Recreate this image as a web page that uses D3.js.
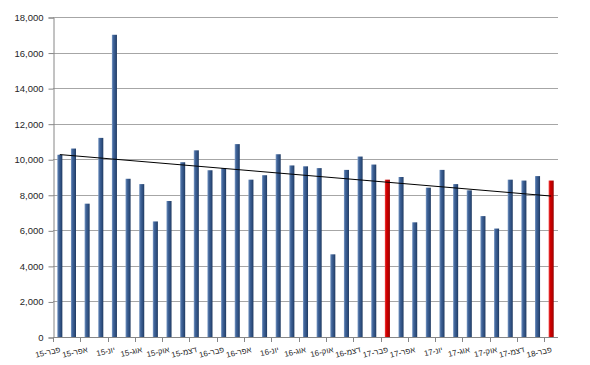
<!doctype html>
<html>
<head>
<meta charset="utf-8">
<title>Monthly counts</title>
<style>
  body { margin: 0; background: #fff; }
  text { font-family: "Liberation Sans", Arial, sans-serif; fill: #262626; }
</style>
</head>
<body>
<div id="chart"></div>
<script src="https://d3js.org/d3.v7.min.js"></script>
<script>
// categories: one per month, Feb-15 .. Feb-18
var months = ["פבר-15","מרץ-15","אפר-15","מאי-15","יונ-15","יול-15","אוג-15","ספט-15","אוק-15","נוב-15","דצמ-15",
              "ינו-16","פבר-16","מרץ-16","אפר-16","מאי-16","יונ-16","יול-16","אוג-16","ספט-16","אוק-16","נוב-16","דצמ-16",
              "ינו-17","פבר-17","מרץ-17","אפר-17","מאי-17","יונ-17","יול-17","אוג-17","ספט-17","אוק-17","נוב-17","דצמ-17",
              "ינו-18","פבר-18"];
var values = [10250,10600,7500,11200,17000,8900,8600,6500,7650,9830,10500,
              9380,9500,10850,8850,9100,10280,9650,9600,9500,4650,9400,10150,
              9700,8850,9000,6450,8400,9400,8600,8250,6800,6100,8850,8800,
              9050,8800];
var highlighted = ["פבר-17","פבר-18"];
var yTicks = [0,2000,4000,6000,8000,10000,12000,14000,16000,18000];

var W = 590, H = 365;
var mLeft = 53, mRight = 558, mTop = 17, mBottom = 337;

var svg = d3.select("#chart").append("svg").attr("width", W).attr("height", H);

var defs = svg.append("defs");
function grad(id, stops) {
  var g = defs.append("linearGradient").attr("id", id)
    .attr("x1", "0").attr("x2", "1").attr("y1", "0").attr("y2", "0");
  stops.forEach(function(s){ g.append("stop").attr("offset", s[0]).attr("stop-color", s[1]); });
}
grad("blueBar", [["0%","#7d9cc6"],["30%","#41659a"],["75%","#2c4c7b"],["100%","#1e385e"]]);
grad("redBar",  [["0%","#f04040"],["35%","#d00000"],["80%","#b00000"],["100%","#880000"]]);

var x = d3.scaleBand().domain(months).range([mLeft, mRight]).paddingInner(0.63).paddingOuter(0.315);
var y = d3.scaleLinear().domain([0, 18000]).range([mBottom, mTop]);

// gridlines
svg.append("g").selectAll("line").data(yTicks.slice(1)).enter().append("line")
  .attr("x1", mLeft).attr("x2", mRight)
  .attr("y1", function(d){ return Math.round(y(d)) + 0.5; })
  .attr("y2", function(d){ return Math.round(y(d)) + 0.5; })
  .attr("stroke", "#a6a6a6").attr("stroke-width", 1);

// y axis
var yAxis = svg.append("g").attr("transform", "translate(" + (mLeft + 0.5) + ",0.5)")
  .call(d3.axisLeft(y).tickValues(yTicks).tickSize(5).tickPadding(5).tickFormat(d3.format(",")));
yAxis.select(".domain").attr("stroke", "#868686");
yAxis.selectAll(".tick line").attr("stroke", "#868686");
yAxis.selectAll("text").style("font-size", "9.5px").style("font-family", "'Liberation Sans', Arial, sans-serif").attr("fill", "#262626");

// bars
svg.append("g").selectAll("rect").data(values).enter().append("rect")
  .attr("x", function(d, i){ return x(months[i]); })
  .attr("width", x.bandwidth())
  .attr("y", function(d){ return y(d); })
  .attr("height", function(d){ return y(0) - y(d); })
  .attr("fill", function(d, i){ return highlighted.indexOf(months[i]) >= 0 ? "url(#redBar)" : "url(#blueBar)"; });

// x axis line + ticks every second month
var step = x.step();
svg.append("line").attr("x1", mLeft).attr("x2", mRight)
  .attr("y1", mBottom + 0.5).attr("y2", mBottom + 0.5).attr("stroke", "#868686");
var tickIdx = d3.range(0, months.length, 2);
svg.append("g").selectAll("line").data(tickIdx).enter().append("line")
  .attr("x1", function(i){ return Math.round(x(months[i]) - step * 0.315) + 0.5; })
  .attr("x2", function(i){ return Math.round(x(months[i]) - step * 0.315) + 0.5; })
  .attr("y1", mBottom).attr("y2", mBottom + 5)
  .attr("stroke", "#868686");

// rotated month labels
svg.append("g").selectAll("text").data(tickIdx).enter().append("text")
  .attr("transform", function(i){
    var cx = x(months[i]) + x.bandwidth() / 2;
    return "translate(" + (cx + 1) + "," + (mBottom + 15) + ") rotate(-13)";
  })
  .attr("text-anchor", "end")
  .style("font-size", "8px")
  .text(function(i){ return months[i]; });

// linear trend line (least squares on the values)
var n = values.length;
var mx = d3.mean(d3.range(n)), my = d3.mean(values);
var sxy = d3.sum(values, function(v, i){ return (i - mx) * (v - my); });
var sxx = d3.sum(d3.range(n), function(i){ return (i - mx) * (i - mx); });
var slope = sxy / sxx, icpt = my - slope * mx;
var cxOf = function(i){ return x(months[i]) + x.bandwidth() / 2; };
svg.append("line")
  .attr("x1", cxOf(0)).attr("y1", y(icpt))
  .attr("x2", cxOf(n - 1)).attr("y2", y(icpt + slope * (n - 1)))
  .attr("stroke", "#000").attr("stroke-width", 1);
</script>
</body>
</html>
